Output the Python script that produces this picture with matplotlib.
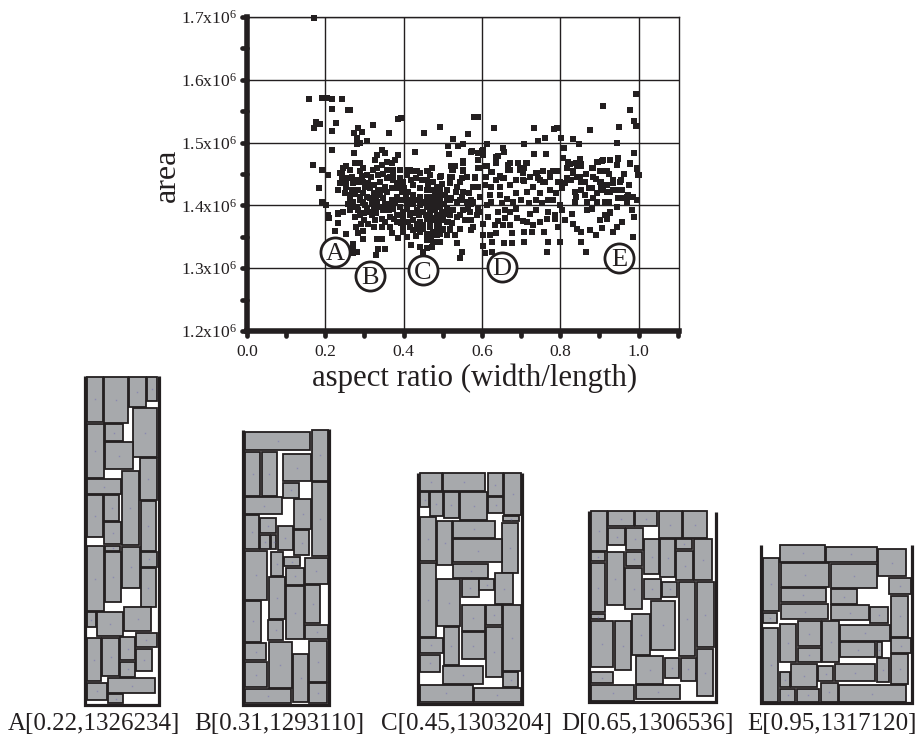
import matplotlib
matplotlib.use("Agg")
import matplotlib.pyplot as plt
from matplotlib.markers import MarkerStyle, TICKLEFT, TICKDOWN
from matplotlib.patches import Rectangle
from matplotlib.ticker import MultipleLocator

plt.rcParams['font.family'] = ['Liberation Serif', 'DejaVu Serif']
plt.rcParams['mathtext.fontset'] = 'custom'
plt.rcParams['mathtext.rm'] = 'Liberation Serif'
plt.rcParams['mathtext.default'] = 'rm'

W, H = 919, 741
INK = '#231f20'
GRAY = '#a7a9ac'

# (aspect ratio, area in thousands)
pts_sparse = [
    (.171,1698),(.158,1569),(.191,1571),(.203,1571),(.216,1569),(.242,1569),(.218,1553),(.259,1552),(.262,1552),
    (.176,1533),(.186,1530),(.172,1524),(.226,1531),(.218,1519),(.284,1524),(.274,1515),(.293,1517),(.280,1507),
    (.288,1500),(.280,1497),(.307,1502),(.321,1528),(.362,1516),(.386,1537),(.392,1539),(.451,1515),(.494,1525),
    (.216,1488),(.274,1484),(.429,1485),(.169,1464),(.191,1457),(.206,1449),(.184,1427),(.192,1406),(.202,1400),
    (.206,1384),(.210,1380),(.233,1372),(.225,1359),(.254,1354),(.233,1387),(.270,1339),(.271,1332),(.280,1325),
    (.270,1324),(.278,1365),(.284,1356),(.297,1360),(.297,1346),(.310,1371),(.324,1366),(.331,1346),(.344,1346),
    (.329,1321),(.335,1330),(.352,1330),(.386,1348),(.365,1366),(.369,1356),(.382,1374),(.344,1379),(.344,1365),
    (.408,1350),(.431,1351),(.399,1358),(.420,1337),(.442,1334),(.459,1345),(.476,1342),(.491,1342),(.459,1332),
    (.472,1334),(.450,1326),(.535,1340),(.550,1326),(.545,1316),(.602,1336),(.608,1324),(.625,1325),(.626,1341),
    (.656,1340),(.676,1340),(.706,1342),(.768,1342),(.767,1326),(.799,1341),(.854,1342),(.865,1326),(.986,1350),
]

pts_upper = [
    (.580,1541),(.589,1540),(.631,1523),(.733,1524),(.784,1521),(.792,1523),(.877,1520),(.909,1558),(.977,1552),
    (.994,1578),(.988,1535),(.994,1526),(.950,1525),(.525,1506),(.564,1514),(.513,1494),(.538,1494),(.552,1497),
    (.516,1482),(.574,1487),(.592,1484),(.601,1487),(.603,1481),(.614,1497),(.653,1492),(.656,1485),(.640,1478),
    (.706,1498),(.744,1502),(.761,1507),(.801,1508),(.833,1505),(.848,1498),(.809,1492),(.734,1482),(.763,1482),
    (.944,1499),(.988,1483),(.808,1475),(.851,1474),(.927,1473),(.948,1474),(.906,1471),(.893,1469),(.977,1466),
    (.944,1465),(.995,1458),(.999,1449),(.820,1469),(.816,1459),(.854,1466),(.842,1462),(.880,1459),(.884,1446),
    (.901,1454),(.918,1455),(.833,1451),(.842,1446),(.854,1438),(.901,1438),(.910,1430),(.935,1435),(.952,1438),
    (.975,1432),(.918,1422),(.944,1425),(.969,1414),(.986,1414),(.671,1467),(.693,1467),(.712,1467),(.667,1457),
    (.697,1456),(.706,1459),(.636,1467),(.610,1462),(.591,1459),(.589,1472),(.552,1470),(.531,1463),(.523,1456),
    (.552,1455),(.495,1447),(.463,1455),(.625,1453),(.646,1447),(.656,1443),(.582,1444),(.523,1446),(.518,1435),
    (.740,1451),(.756,1454),(.782,1454),(.791,1455),(.744,1443),(.756,1438),(.722,1446),(.706,1439),(.686,1440),
    (.774,1446),(.799,1438),(.816,1443),(.425,1454),(.442,1452),(.467,1448),(.416,1456),
]

pts_left = [
    (.246,1459),(.254,1462),(.237,1451),(.242,1443),(.237,1435),(.233,1424),(.254,1430),(.250,1419),(.263,1416),
    (.271,1435),(.284,1438),(.297,1438),(.310,1435),(.314,1427),(.306,1448),(.297,1459),(.289,1467),(.276,1467),
    (.259,1443),(.267,1424),(.284,1424),(.297,1419),(.306,1414),(.323,1419),(.323,1432),(.335,1424),(.340,1416),
    (.352,1430),(.357,1422),(.374,1440),(.365,1446),(.391,1443),(.412,1456),(.433,1454),(.459,1454),(.476,1438),
    (.493,1446),(.462,1432),(.327,1472),(.331,1480),(.344,1488),(.352,1483),(.386,1480),(.378,1472),(.357,1469),
    (.369,1467),(.331,1459),(.344,1464),(.335,1448),(.357,1456),(.374,1456),(.391,1456),(.408,1448),(.399,1438),
    (.386,1427),(.369,1427),(.425,1432),(.442,1427),(.459,1424),(.476,1424),(.484,1430),(.493,1419),(.510,1424),
    (.382,1414),(.395,1422),(.412,1422),(.425,1416),(.442,1414),(.459,1414),(.476,1411),(.493,1411),(.514,1411),
    (.369,1408),(.348,1411),(.331,1406),(.318,1403),(.301,1400),(.289,1408),(.271,1406),(.259,1403),(.280,1398),
    (.263,1393),(.246,1390),(.233,1388),(.276,1382),(.289,1385),(.306,1395),(.323,1395),(.340,1398),(.357,1400),
    (.374,1395),(.391,1398),(.408,1403),(.425,1403),(.442,1400),(.459,1398),(.476,1400),(.493,1398),(.510,1395),
    (.399,1390),(.416,1385),(.433,1393),(.450,1390),(.467,1387),(.484,1385),(.501,1387),(.518,1385),(.382,1385),
    (.365,1382),(.412,1374),(.425,1377),(.442,1374),(.459,1379),(.476,1377),(.493,1379),(.510,1374),(.399,1366),
    (.433,1363),(.450,1369),(.467,1366),(.484,1363),(.501,1361),(.518,1363),(.425,1361),(.442,1358),(.459,1355),
    (.476,1353),(.493,1355),(.510,1353),(.300,1377),(.318,1385),(.352,1374),(.328,1376),(.362,1392),(.290,1370),
]

pts_mid = [
    (.467,1424),(.480,1422),(.493,1427),(.471,1414),(.484,1411),(.497,1416),(.510,1408),(.522,1411),(.535,1406),
    (.548,1408),(.561,1406),(.573,1403),(.476,1403),(.493,1403),(.467,1395),(.480,1393),(.497,1390),(.510,1387),
    (.527,1393),(.544,1385),(.556,1377),(.569,1390),(.586,1385),(.467,1385),(.484,1379),(.501,1377),(.514,1374),
    (.467,1374),(.484,1369),(.501,1363),(.518,1361),(.531,1353),(.544,1363),(.573,1361),(.578,1365),(.471,1350),
    (.484,1353),(.493,1342),(.467,1345),(.476,1358),(.573,1377),(.595,1390),(.578,1406),(.595,1414),
    (.522,1462),(.527,1456),(.552,1467),(.573,1485),(.590,1483),(.603,1488),(.637,1477),(.595,1459),(.612,1462),
    (.624,1453),(.552,1456),(.548,1443),(.561,1446),(.582,1445),(.518,1446),(.518,1435),(.544,1438),(.533,1422),
    (.552,1422),(.548,1414),(.578,1430),(.590,1430),(.607,1432),(.624,1430),(.646,1446),(.654,1443),(.646,1430),
    (.667,1464),(.671,1456),(.693,1467),(.697,1459),(.714,1467),(.705,1451),(.722,1446),(.688,1440),(.705,1440),
    (.739,1451),(.756,1454),(.773,1451),(.789,1454),(.748,1440),(.761,1438),(.795,1438),(.816,1443),(.671,1432),
    (.688,1419),(.714,1422),(.731,1430),(.748,1419),(.739,1408),(.773,1425),(.790,1419),(.803,1427),(.812,1435),
    (.646,1416),(.620,1416),(.624,1406),(.518,1408),(.544,1408),(.573,1408),(.590,1395),(.616,1382),(.641,1390),
    (.658,1393),(.671,1390),(.688,1395),(.722,1386),(.739,1393),(.769,1390),(.786,1385),(.799,1400),(.803,1393),
    (.603,1371),(.620,1353),(.637,1356),(.676,1356),(.633,1369),(.654,1369),(.671,1369),(.602,1353),(.706,1358),
    (.727,1358),(.714,1374),(.731,1369),(.758,1357),(.748,1374),(.765,1379),(.786,1379),(.795,1365),(.812,1377),
    (.833,1371),(.842,1363),(.854,1358),
]

pts_right = [
    (.824,1466),(.841,1467),(.850,1472),(.833,1454),(.854,1462),(.850,1446),(.863,1438),(.884,1459),(.897,1469),
    (.910,1472),(.927,1472),(.948,1475),(.944,1464),(.978,1467),(.988,1483),(.995,1459),(1.001,1448),(.880,1427),
    (.884,1446),(.910,1454),(.905,1438),(.918,1432),(.935,1440),(.956,1440),(.976,1432),(.837,1422),(.841,1414),
    (.837,1406),(.863,1416),(.867,1406),(.884,1411),(.905,1424),(.927,1422),(.935,1424),(.948,1411),(.973,1416),
    (.986,1414),(.995,1408),(.969,1406),(.893,1406),(.914,1406),(.867,1393),(.880,1395),(.944,1398),(.927,1390),
    (.914,1385),(.829,1386),(.803,1393),(.876,1361),(.890,1353),(.907,1364),(.901,1377),(.918,1379),(.927,1388),
    (.935,1358),(.944,1365),(.958,1374),(.982,1392),(.988,1382),(.905,1430),(.893,1419),(.958,1425),
]

pts_dense = [
    (.243,1451),(.252,1437),(.262,1456),(.268,1445),(.288,1455),(.293,1447),(.278,1441),(.262,1410),(.276,1418),
    (.288,1414),(.301,1430),(.316,1445),(.322,1456),(.340,1438),(.348,1450),(.358,1443),(.372,1448),(.383,1436),
    (.346,1424),(.330,1412),(.315,1412),(.296,1405),(.270,1398),(.284,1392),(.300,1388),(.314,1390),(.330,1388),
    (.346,1392),(.352,1403),(.365,1402),(.378,1406),(.392,1408),(.405,1412),(.418,1408),(.432,1408),(.446,1406),
    (.462,1406),(.478,1394),(.488,1404),(.504,1402),(.398,1382),(.408,1394),(.424,1388),(.440,1384),(.456,1384),
    (.470,1380),(.490,1372),(.434,1370),(.450,1362),(.416,1366),(.375,1378),(.392,1372),(.402,1428),(.418,1440),
    (.432,1444),(.448,1440),(.460,1440),(.472,1460),(.498,1434),(.505,1416),(.535,1430),(.566,1420),(.563,1395),
    (.535,1382),(.523,1372),(.551,1392),(.610,1445),(.636,1440),(.612,1400),(.650,1404),(.664,1410),(.680,1406),
    (.700,1408),(.720,1404),(.752,1404),(.768,1408),(.782,1408),(.705,1375),(.690,1380),(.660,1380),(.640,1375),
    (.866,1450),(.872,1428),(.892,1442),(.925,1450),(.962,1450),(.955,1412),(.925,1405),(.852,1424),(.826,1440),
]

tick_y = [1.2e6, 1.3e6, 1.4e6, 1.5e6, 1.6e6, 1.7e6]
tick_y_labels = ['1.2x10$^{6}$', '1.3x10$^{6}$', '1.4x10$^{6}$', '1.5x10$^{6}$', '1.6x10$^{6}$', '1.7x10$^{6}$']

circle_names = ['A', 'B', 'C', 'D', 'E']
circle_x = [.225, .315, .449, .651, .950]
circle_y = [1326, 1288, 1297, 1302, 1317]

# rectangles as (x0, y0, x1, y1), plan units
plan_a = [
    (50,20,100,155),(103,20,173,158),(176,20,227,110),(230,20,262,92),(190,115,261,262),(105,163,158,212),
    (50,163,102,323),(105,217,188,298),(210,265,260,390),(155,303,207,525),(50,327,152,372),(50,376,100,500),
    (103,376,148,452),(102,456,153,522),(212,393,258,542),(105,527,150,543),(50,527,102,724),(105,547,153,697),
    (155,530,210,654),(213,546,261,590),(212,595,258,710),(50,727,78,772),(82,727,160,798),(163,712,243,784),
    (197,788,260,832),(50,803,93,934),(97,803,146,917),(150,802,195,870),(150,875,196,920),(199,836,245,904),
    (113,923,256,970),(50,938,110,990),(113,973,160,1000),
]
plan_b = [
    (525,187,720,240),(725,180,775,332),(525,245,571,377),(575,245,621,377),(640,253,722,334),(640,338,687,383),
    (725,336,775,558),(525,381,637,432),(672,387,723,477),(525,436,567,538),(570,445,618,490),(570,494,600,538),
    (604,494,619,538),(623,468,669,540),(672,481,718,555),(525,543,592,689),(602,547,640,618),(643,560,690,589),
    (705,563,773,641),(648,593,703,644),(596,622,645,746),(649,648,703,808),(706,645,750,760),(525,692,572,816),
    (595,750,640,810),(706,764,773,808),(525,820,589,871),(596,815,666,953),(718,812,770,937),(525,876,590,952),
    (670,851,713,997),(718,940,770,998),(525,957,662,998),
]
plan_c = [
    (60,40,125,92),(128,40,254,94),(263,40,308,107),(312,40,363,165),(60,97,87,142),(90,97,128,168),
    (131,97,176,173),(180,97,261,180),(265,111,310,158),(60,170,107,304),(111,182,156,316),(159,182,285,233),
    (310,168,358,184),(307,188,355,338),(159,237,306,306),(159,311,265,354),(60,308,108,530),(111,358,181,497),
    (185,358,237,412),(238,358,283,390),(286,340,340,432),(185,434,255,513),(259,434,305,496),(309,434,362,633),
    (185,517,255,597),(259,500,306,651),(131,501,176,616),(60,534,128,578),(60,584,120,636),(130,619,248,671),
    (309,637,355,682),(60,674,218,726),(222,685,362,726),
]
plan_d = [
    (574,154,621,272),(625,154,701,199),(705,154,772,199),(776,154,846,233),(850,154,921,233),(625,204,675,256),
    (678,204,729,270),(733,238,778,342),(781,238,826,352),(829,238,875,268),(883,238,935,361),(574,276,616,304),
    (620,276,671,436),(678,275,726,318),(829,272,879,361),(574,310,616,456),(675,323,727,448),(731,357,783,418),
    (786,365,832,410),(836,367,886,588),(890,367,941,562),(574,461,616,478),(752,422,825,570),(696,462,749,585),
    (574,483,640,620),(645,482,692,631),(892,568,938,708),(707,589,790,671),(794,593,836,654),(842,593,888,663),
    (574,635,640,670),(574,676,703,722),(707,675,840,718),
]
plan_e = [
    (120,45,255,95),(258,50,410,95),(415,57,497,138),(68,83,118,243),(122,100,268,170),(272,103,410,173),
    (447,143,513,192),(122,175,257,217),(272,178,350,221),(453,197,505,320),(122,222,265,267),(272,225,388,270),
    (391,230,445,280),(68,248,110,278),(68,295,115,515),(119,281,168,397),(173,272,243,349),(247,273,298,397),
    (301,285,450,332),(453,325,513,368),(301,337,405,381),(410,337,425,380),(173,353,243,397),(453,373,505,462),
    (119,427,150,470),(153,403,231,471),(235,408,280,453),(284,401,406,454),(410,384,447,455),(119,476,166,515),
    (170,476,238,515),(242,459,294,515),(297,466,497,515),
]
plan_labels = ['A[0.22,1326234]', 'B[0.31,1293110]', 'C[0.45,1303204]', 'D[0.65,1306536]', 'E[0.95,1317120]']
label_left = [8, 194, 381, 561, 747]


def px_axes(fig, x, y, w, h):
    return fig.add_axes([x / W, 1 - (y + h) / H, w / W, h / H])


fig = plt.figure(figsize=(W / 100, H / 100), dpi=100)
ax = px_axes(fig, 247, 17, 432, 314)

groups = [pts_sparse, pts_upper, pts_left, pts_mid, pts_right, pts_dense]
xs = [p[0] for g in groups for p in g]
ys = [p[1] * 1e3 for g in groups for p in g]
ax.scatter(xs, ys, marker='s', s=24, color=INK, linewidths=0, zorder=3, clip_on=False)

ax.set_xlim(0, 1.103)
ax.set_ylim(1.2e6, 1.7e6)
ax.xaxis.set_major_locator(MultipleLocator(0.2))
ax.xaxis.set_minor_locator(MultipleLocator(0.1))
ax.set_yticks(tick_y)
ax.set_yticklabels(tick_y_labels)
ax.yaxis.set_minor_locator(MultipleLocator(5e4))
ax.grid(True, which='major', color=INK, lw=1.0)
ax.set_axisbelow(True)

for side, lw in [('left', 4), ('bottom', 4), ('top', 1.0), ('right', 1.0)]:
    ax.spines[side].set_linewidth(lw)
    ax.spines[side].set_color(INK)
    ax.spines[side].set_zorder(4)

ax.tick_params(axis='both', which='both', color=INK, labelcolor=INK, labelsize=12.6)
ax.tick_params(axis='y', which='major', pad=4)
ax.tick_params(axis='x', which='major', pad=6)

for t in ax.yaxis.get_major_ticks() + ax.yaxis.get_minor_ticks():
    t.tick1line.set_marker(MarkerStyle(TICKLEFT, capstyle='round'))
    t.tick1line.set_markersize(3.5)
    t.tick1line.set_markeredgewidth(3.4)
for t in ax.xaxis.get_major_ticks() + ax.xaxis.get_minor_ticks():
    t.tick1line.set_marker(MarkerStyle(TICKDOWN, capstyle='round'))
    t.tick1line.set_markersize(3.5)
    t.tick1line.set_markeredgewidth(3.4)

ax.scatter(circle_x, [v * 1e3 for v in circle_y], s=440, facecolor='white', edgecolor=INK,
           linewidths=2.0, zorder=5, clip_on=False)
for name, cx, cy in zip(circle_names, circle_x, circle_y):
    ax.text(cx, cy * 1e3, name, fontsize=19, color=INK, ha='center', va='center_baseline', zorder=6)

fig.text(475 / W, 1 - 378 / H, 'aspect ratio (width/length)', fontsize=22.2, color=INK, ha='center', va='center')
fig.text(167 / W, 1 - 175 / H, 'area', fontsize=23, color=INK, rotation=90, ha='center', va='center')


def draw_plan(crop, rects, wall):
    a = px_axes(fig, *crop)
    a.set_xlim(0, crop[2] * 3)
    a.set_ylim(crop[3] * 3, 0)
    a.axis('off')
    a.patch.set_alpha(0)
    for x0, y0, x1, y1 in rects:
        a.add_patch(Rectangle((x0, y0), x1 - x0, y1 - y0, facecolor=GRAY, edgecolor=INK, lw=1.3))
        a.plot([(x0 + x1) / 2], [(y0 + y1) / 2], marker='s', ms=1, color='#8a8ab0', mew=0)
    a.plot(wall[0], wall[1], color=INK, lw=2.3, solid_joinstyle='miter', solid_capstyle='butt')


draw_plan((70, 370, 270, 340), plan_a, ([45, 45, 266, 266], [17, 1005, 1005, 17]))
draw_plan((70, 370, 270, 340), plan_b, ([520, 520, 778, 778], [180, 1005, 1005, 178]))
draw_plan((400, 460, 340, 280), plan_c, ([54, 54, 367, 367], [38, 732, 732, 38]))
draw_plan((400, 460, 340, 280), plan_d, ([568, 568, 947, 947], [152, 727, 727, 155]))
draw_plan((740, 530, 179, 210), plan_e, ([63, 63, 517, 517], [45, 520, 520, 45]))

for label, left in zip(plan_labels, label_left):
    fig.text(left / W, 1 - 724 / H, label, fontsize=18, color=INK, ha='left', va='center')

fig.savefig('out.png', dpi=100, facecolor='white')
